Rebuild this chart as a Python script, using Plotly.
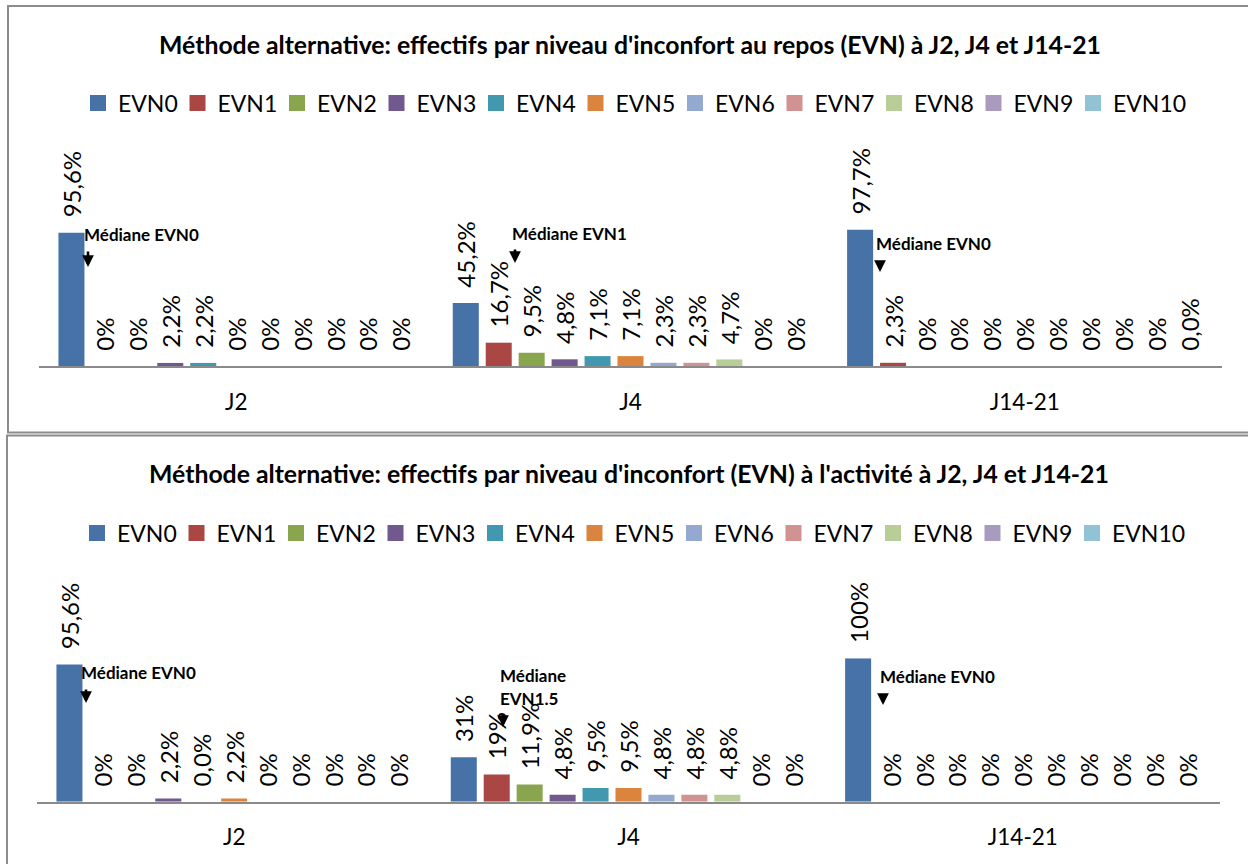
import plotly.graph_objects as go

W, H = 1248, 864
OFF = 0  # body margin removed below via post_script

def xp(px):
    return (px - OFF) / (W - 2 * OFF)

def yp(py):
    return 1 - (py - OFF) / (H - 2 * OFF)

# ---------------- data ----------------
categories = ["J2", "J4", "J14-21"]
levels = ["EVN0", "EVN1", "EVN2", "EVN3", "EVN4", "EVN5",
          "EVN6", "EVN7", "EVN8", "EVN9", "EVN10"]
colors = ["#4672A8", "#AA4644", "#89A54E", "#71588F", "#4198AF", "#DB843D",
          "#93A9CF", "#D19392", "#B9CD96", "#A99BBD", "#92C3D4"]

# Chart 1: au repos (% of patients per EVN level)
repos_J2 = [95.6, 0, 0, 2.2, 2.2, 0, 0, 0, 0, 0, 0]
repos_J4 = [45.2, 16.7, 9.5, 4.8, 7.1, 7.1, 2.3, 2.3, 4.7, 0, 0]
repos_J14 = [97.7, 2.3, 0, 0, 0, 0, 0, 0, 0, 0, 0.0]
repos_J2_txt = ["95,6%", "0%", "0%", "2,2%", "2,2%", "0%", "0%", "0%", "0%", "0%", "0%"]
repos_J4_txt = ["45,2%", "16,7%", "9,5%", "4,8%", "7,1%", "7,1%", "2,3%", "2,3%", "4,7%", "0%", "0%"]
repos_J14_txt = ["97,7%", "2,3%", "0%", "0%", "0%", "0%", "0%", "0%", "0%", "0%", "0,0%"]

# Chart 2: à l'activité
activite_J2 = [95.6, 0, 0, 2.2, 0.0, 2.2, 0, 0, 0, 0, 0]
activite_J4 = [31, 19, 11.9, 4.8, 9.5, 9.5, 4.8, 4.8, 4.8, 0, 0]
activite_J14 = [100, 0, 0, 0, 0, 0, 0, 0, 0, 0, 0]
activite_J2_txt = ["95,6%", "0%", "0%", "2,2%", "0,0%", "2,2%", "0%", "0%", "0%", "0%", "0%"]
activite_J4_txt = ["31%", "19%", "11,9%", "4,8%", "9,5%", "9,5%", "4,8%", "4,8%", "4,8%", "0%", "0%"]
activite_J14_txt = ["100%", "0%", "0%", "0%", "0%", "0%", "0%", "0%", "0%", "0%", "0%"]

title1 = "Méthode alternative: effectifs par niveau d'inconfort au repos (EVN) à J2, J4 et J14-21"
title2 = "Méthode alternative: effectifs par niveau d'inconfort (EVN) à l'activité à J2, J4 et J14-21"

FONT = "Lato"
PAD = "\u00a0\u00a0"

fig = go.Figure()

charts = [
    (repos_J2, repos_J4, repos_J14, repos_J2_txt, repos_J4_txt, repos_J14_txt, "x", "y", "legend"),
    (activite_J2, activite_J4, activite_J14, activite_J2_txt, activite_J4_txt, activite_J14_txt, "x2", "y2", "legend2"),
]

for (a, b, c, ta, tb, tc, xa, ya, lg) in charts:
    for k, lvl in enumerate(levels):
        fig.add_trace(go.Bar(
            x=categories, y=[a[k], b[k], c[k]],
            text=[PAD + ta[k], PAD + tb[k], PAD + tc[k]],
            textposition="outside", textangle=-90, constraintext="none",
            cliponaxis=False,
            textfont=dict(family=FONT, size=24, color="#000000"),
            marker=dict(color=colors[k], line=dict(width=0)),
            name=lvl, showlegend=False, xaxis=xa, yaxis=ya, hoverinfo="skip",
        ))
    for k, lvl in enumerate(levels):
        fig.add_trace(go.Scatter(
            x=[None], y=[None], mode="markers", name=lvl,
            marker=dict(symbol="square", size=16, color=colors[k], line=dict(width=0)),
            xaxis=xa, yaxis=ya, legend=lg, showlegend=True,
            legendwidth=(90 if k == len(levels) - 1 else 54.5),
        ))

axis_common = dict(type="category", showgrid=False, zeroline=False, showline=True,
                   linecolor="#8A8A8A", linewidth=1.5, ticks="outside", ticklen=15,
                   tickcolor="rgba(0,0,0,0)",
                   tickfont=dict(family=FONT, size=22.5, color="#000000"), fixedrange=True)

leg_common = dict(orientation="h", xanchor="left", yanchor="middle",
                  font=dict(family=FONT, size=23, color="#000000"),
                  entrywidth=54.5, entrywidthmode="pixels", itemwidth=30,
                  bgcolor="rgba(0,0,0,0)", traceorder="normal", itemclick=False)

annots = [
    dict(text="<b>" + title1 + "</b>", x=xp(630), y=yp(44)),
    dict(text="<b>" + title2 + "</b>", x=xp(629), y=yp(473)),
]
for a in annots:
    a.update(xref="paper", yref="paper", showarrow=False, xanchor="center", yanchor="middle",
             font=dict(family=FONT, size=24.8, color="#000000"))

med = [
    ("Médiane EVN0", 82, 235, 88, 250, 267),
    ("Médiane EVN1", 510, 234, 515, 248, 263),
    ("Médiane EVN0", 874, 243, 880, 260, 272),
    ("Médiane EVN0", 79, 672, 86, 688, 703),
    ("Médiane", 498, 675.5, 503, 713, 727),
    ("Médiane EVN0", 878, 676.5, 883, 693, 705),
]
for (t, tx, ty, axp, y0, y1) in med:
    annots.append(dict(text="<b>" + t + "</b>", x=xp(tx), y=yp(ty), xref="paper", yref="paper",
                       showarrow=False, xanchor="left", yanchor="middle",
                       font=dict(family=FONT, size=17, color="#000000")))
    annots.append(dict(text="", x=xp(axp), y=yp(y1), xref="paper", yref="paper",
                       showarrow=True, ax=0, ay=-(y1 - y0), arrowhead=2, arrowsize=0.9,
                       arrowwidth=2.6, arrowcolor="#000000"))
annots.append(dict(text="<b>EVN1.5</b>", x=xp(498), y=yp(698.5), xref="paper", yref="paper",
                   showarrow=False, xanchor="left", yanchor="middle",
                   font=dict(family=FONT, size=17, color="#000000")))

shapes = [
    dict(type="rect", xref="paper", yref="paper", x0=xp(8), x1=xp(1262), y0=yp(6), y1=yp(432.5),
         line=dict(color="#8C8C8C", width=2), layer="below"),
    dict(type="rect", xref="paper", yref="paper", x0=xp(7), x1=xp(1262), y0=yp(435.5), y1=yp(880),
         line=dict(color="#8C8C8C", width=2), layer="below"),
]

fig.update_layout(
    width=W - 2 * OFF, height=H - 2 * OFF,
    margin=dict(l=0, r=0, t=0, b=0),
    paper_bgcolor="white", plot_bgcolor="rgba(0,0,0,0)",
    barmode="group", bargap=0.081, bargroupgap=0.21,
    font=dict(family=FONT, color="#000000"),
    xaxis=dict(domain=[xp(39), xp(1222)], anchor="y", **axis_common),
    yaxis=dict(domain=[yp(366), yp(366 - 139.5)], range=[0, 100], visible=False, fixedrange=True),
    xaxis2=dict(domain=[xp(37), xp(1220)], anchor="y2", **axis_common),
    yaxis2=dict(domain=[yp(801.7), yp(801.7 - 143.5)], range=[0, 100], visible=False, fixedrange=True),
    legend=dict(x=xp(78), y=yp(103), **leg_common),
    legend2=dict(x=xp(77), y=yp(533), **leg_common),
    annotations=annots,
    shapes=shapes,
    hovermode=False,
)

fig.write_html("out.html", config={"displayModeBar": False},
               post_script="document.body.style.margin='0';")
